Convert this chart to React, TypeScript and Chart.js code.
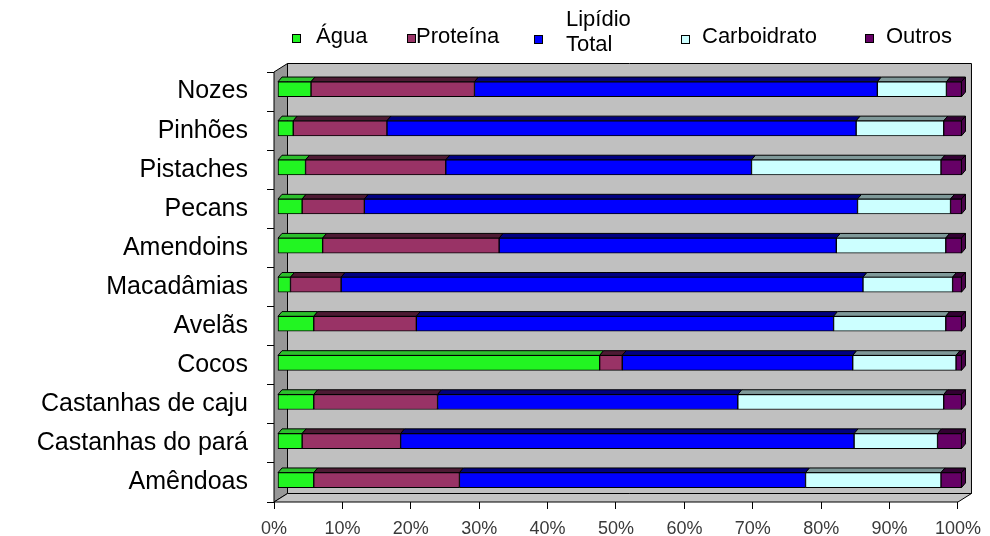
import React, { useEffect, useRef } from "react";
import { Chart, registerables } from "chart.js";

Chart.register(...registerables);

// ---------- data ----------
const categories = [
  "Nozes",
  "Pinhões",
  "Pistaches",
  "Pecans",
  "Amendoins",
  "Macadâmias",
  "Avelãs",
  "Cocos",
  "Castanhas de caju",
  "Castanhas do pará",
  "Amêndoas",
];
const seriesNames = ["Água", "Proteína", "Lipídio Total", "Carboidrato", "Outros"];
const agua = [4.9, 2.3, 4.1, 3.6, 6.6, 1.9, 5.3, 47.1, 5.3, 3.6, 5.3];
const proteina = [23.9, 13.7, 20.5, 9.1, 25.8, 7.4, 15.0, 3.3, 18.1, 14.4, 21.3];
const lipidio = [58.9, 68.6, 44.7, 72.1, 49.3, 76.3, 61.0, 33.7, 43.9, 66.3, 50.6];
const carboidrato = [10.1, 12.8, 27.7, 13.6, 16.0, 13.1, 16.4, 15.1, 30.1, 12.2, 19.8];
const outros = [2.2, 2.6, 3.0, 1.6, 2.3, 1.3, 2.3, 0.8, 2.6, 3.5, 3.0];
const xTickLabels = ["0%", "10%", "20%", "30%", "40%", "50%", "60%", "70%", "80%", "90%", "100%"];

// ---------- styles ----------
const FONT = "'Liberation Sans', Arial, Helvetica, sans-serif";
const frontColors = ["#22f522", "#993366", "#0000ff", "#ccffff", "#660066"];
const topColors = ["#2cc02c", "#4d1a33", "#000080", "#7f9999", "#330033"];
const sideColor = "#4a004a";

const WALL_DX = 13.5;
const WALL_DY = -8.5;
const BAR_SHIFT_X = 3.5;
const BAR_SHIFT_Y = -2.3;
const BAR_DX = 4;
const BAR_DY = -4.7;

function poly(ctx: CanvasRenderingContext2D, pts: number[][], fill: string) {
  ctx.beginPath();
  ctx.moveTo(pts[0][0], pts[0][1]);
  for (let i = 1; i < pts.length; i++) ctx.lineTo(pts[i][0], pts[i][1]);
  ctx.closePath();
  ctx.fillStyle = fill;
  ctx.fill();
  ctx.stroke();
}

const threeDPlugin = {
  id: "threeD",
  beforeDatasetsDraw(chart: any) {
    const ctx: CanvasRenderingContext2D = chart.ctx;
    const a = chart.chartArea;
    ctx.save();
    ctx.lineWidth = 1;
    ctx.strokeStyle = "#000";
    // back wall
    poly(
      ctx,
      [
        [a.left + WALL_DX, a.top + WALL_DY],
        [a.right + WALL_DX, a.top + WALL_DY],
        [a.right + WALL_DX, a.bottom + WALL_DY],
        [a.left + WALL_DX, a.bottom + WALL_DY],
      ],
      "#c0c0c0"
    );
    // left wall
    poly(
      ctx,
      [
        [a.left, a.top],
        [a.left + WALL_DX, a.top + WALL_DY],
        [a.left + WALL_DX, a.bottom + WALL_DY],
        [a.left, a.bottom],
      ],
      "#979797"
    );
    // floor
    poly(
      ctx,
      [
        [a.left, a.bottom],
        [a.left + WALL_DX, a.bottom + WALL_DY],
        [a.right + WALL_DX, a.bottom + WALL_DY],
        [a.right, a.bottom],
      ],
      "#c4c4c4"
    );
    ctx.restore();

    // bar depth faces (top + right side of last segment)
    ctx.save();
    ctx.translate(BAR_SHIFT_X, BAR_SHIFT_Y);
    ctx.lineWidth = 1;
    ctx.strokeStyle = "#000";
    const n = chart.data.datasets.length;
    for (let i = 0; i < n; i++) {
      const meta = chart.getDatasetMeta(i);
      meta.data.forEach((el: any) => {
        const p = el.getProps(["x", "y", "base", "height"], true);
        const x0 = Math.min(p.x, p.base);
        const x1 = Math.max(p.x, p.base);
        const y0 = p.y - p.height / 2;
        const y1 = p.y + p.height / 2;
        if (x1 - x0 < 0.1) return;
        poly(
          ctx,
          [
            [x0, y0],
            [x0 + BAR_DX, y0 + BAR_DY],
            [x1 + BAR_DX, y0 + BAR_DY],
            [x1, y0],
          ],
          topColors[i]
        );
        if (i === n - 1) {
          poly(
            ctx,
            [
              [x1, y0],
              [x1 + BAR_DX, y0 + BAR_DY],
              [x1 + BAR_DX, y1 + BAR_DY],
              [x1, y1],
            ],
            sideColor
          );
        }
      });
    }
    // leave translated: front faces drawn by Chart.js get the same depth shift
  },
  afterDatasetsDraw(chart: any) {
    chart.ctx.restore();
  },
};

// legend layout (positions only; labels come from seriesNames)
const legendLayout = [
  { bx: 292, by: 34, tx: 316, ty: [37] },
  { bx: 407, by: 34, tx: 416, ty: [37] },
  { bx: 534, by: 35, tx: 566, ty: [20, 45] },
  { bx: 681, by: 35, tx: 702, ty: [37] },
  { bx: 865, by: 34, tx: 886, ty: [37] },
];

const legendPlugin = {
  id: "customLegend",
  afterDraw(chart: any) {
    const ctx: CanvasRenderingContext2D = chart.ctx;
    ctx.save();
    ctx.font = `22px ${FONT}`;
    ctx.textBaseline = "middle";
    ctx.textAlign = "left";
    seriesNames.forEach((name, i) => {
      const L = legendLayout[i];
      ctx.fillStyle = frontColors[i];
      ctx.strokeStyle = "#000";
      ctx.lineWidth = 1;
      ctx.fillRect(L.bx, L.by, 8, 8);
      ctx.strokeRect(L.bx + 0.5, L.by + 0.5, 8, 8);
      ctx.fillStyle = "#000";
      const lines = L.ty.length > 1 ? name.split(" ") : [name];
      lines.forEach((line, k) => ctx.fillText(line, L.tx, L.ty[k]));
    });
    ctx.restore();
  },
};

export default function App() {
  const canvasRef = useRef<HTMLCanvasElement | null>(null);

  useEffect(() => {
    if (!canvasRef.current) return;
    Chart.defaults.font.family = FONT;
    const values = [agua, proteina, lipidio, carboidrato, outros];
    const chart = new Chart(canvasRef.current, {
      type: "bar",
      data: {
        labels: categories,
        datasets: seriesNames.map((name, i) => ({
          label: name,
          data: values[i],
          backgroundColor: frontColors[i],
          borderColor: "#000",
          borderWidth: 1,
          borderSkipped: false,
          barThickness: 15,
          clip: false as any,
        })),
      },
      options: {
        indexAxis: "y",
        animation: false,
        responsive: true,
        maintainAspectRatio: false,
        layout: { padding: { top: 72, right: 27, left: 0, bottom: 0 } },
        plugins: {
          legend: { display: false },
          tooltip: { enabled: false },
          title: { display: false },
        },
        scales: {
          x: {
            stacked: true,
            min: 0,
            max: 100,
            border: { display: false },
            grid: {
              drawOnChartArea: false,
              drawTicks: true,
              tickLength: 7,
              color: "#000",
            },
            ticks: {
              stepSize: 10,
              padding: 9,
              color: "#3a3a3a",
              font: { size: 18, family: FONT },
              maxRotation: 0,
              autoSkip: false,
              callback: (_v: any, idx: number) => xTickLabels[idx],
            },
            afterFit: (scale: any) => {
              scale.height = 33;
            },
          },
          y: {
            stacked: true,
            border: { display: false },
            grid: {
              offset: true,
              drawOnChartArea: false,
              drawTicks: true,
              tickLength: 7,
              color: "#000",
            },
            ticks: {
              padding: 19,
              color: "#000",
              autoSkip: false,
              font: { size: 25, family: FONT },
            },
            afterFit: (scale: any) => {
              scale.width = 274;
            },
          },
        },
      } as any,
      plugins: [threeDPlugin, legendPlugin],
    });
    return () => chart.destroy();
  }, []);

  return (
    <div style={{ position: "fixed", left: 0, top: 0, width: 990, height: 536, background: "#fff" }}>
      <canvas ref={canvasRef} />
    </div>
  );
}
